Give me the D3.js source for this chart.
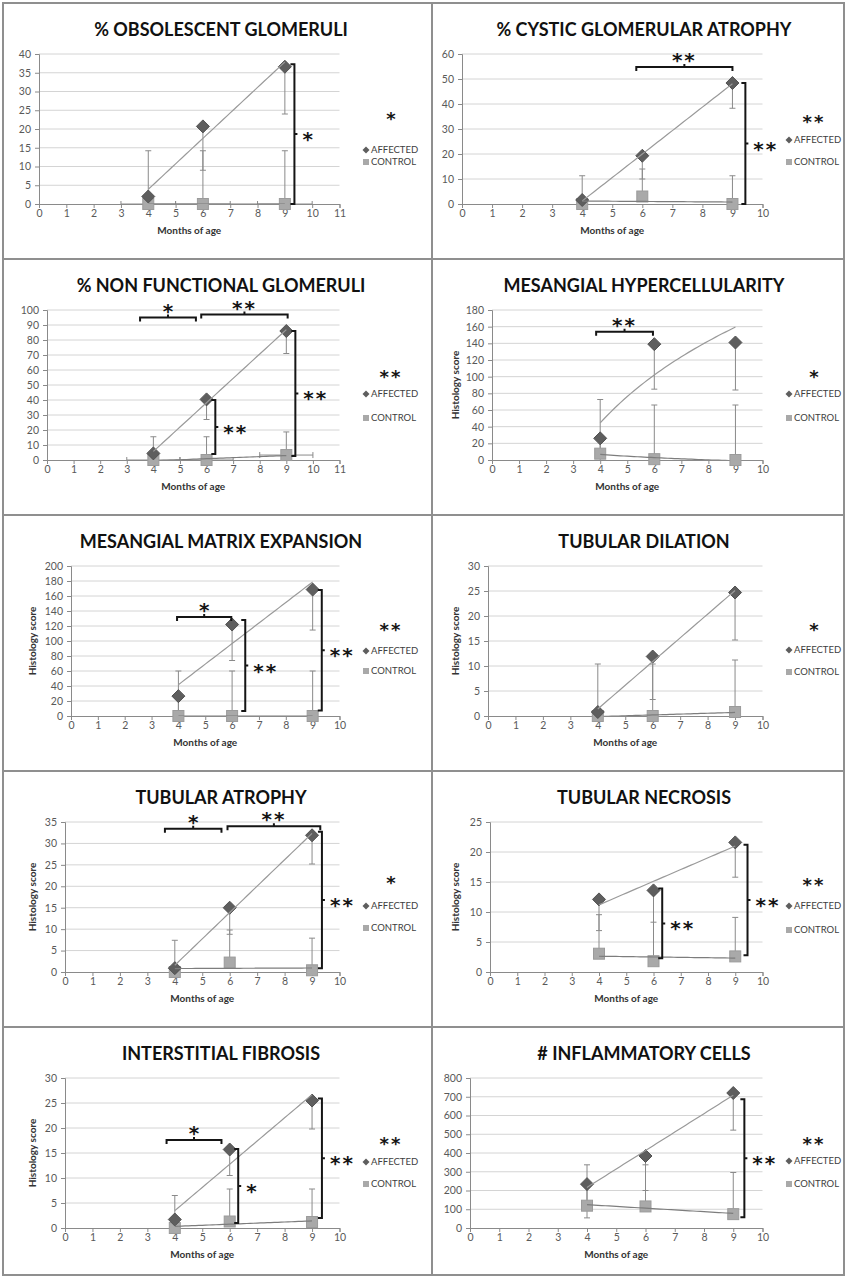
<!DOCTYPE html>
<html>
<head>
<meta charset="utf-8">
<script src="https://cdn.jsdelivr.net/npm/d3@7"></script>
<style>
  body { margin: 0; background: #fff; }
  svg { display: block; }
</style>
</head>
<body>
<svg id="chart"></svg>
<script>
var W = 846, H = 1277;

// ---- data ----
var titles = [
  '% OBSOLESCENT GLOMERULI', '% CYSTIC GLOMERULAR ATROPHY',
  '% NON FUNCTIONAL GLOMERULI', 'MESANGIAL HYPERCELLULARITY',
  'MESANGIAL MATRIX EXPANSION', 'TUBULAR DILATION',
  'TUBULAR ATROPHY', 'TUBULAR NECROSIS',
  'INTERSTITIAL FIBROSIS', '# INFLAMMATORY CELLS'
];
var months = [4, 6, 9];
var seriesNames = ['AFFECTED', 'CONTROL'];
var xMaxes = [11, 10, 11, 10, 10, 10, 10, 10, 10, 10];
var yMaxes = [40, 60, 100, 180, 200, 30, 35, 25, 30, 800];
var ySteps = [5, 10, 10, 20, 20, 5, 5, 5, 5, 100];
var yTitles = ['', '', '', 'Histology score', 'Histology score', 'Histology score',
  'Histology score', 'Histology score', 'Histology score', ''];

var affectedMeans = [
  [2.0, 20.7, 36.6], [1.6, 19.3, 48.4], [4.4, 40.4, 86], [26, 139, 141],
  [26.5, 122, 168.6], [0.8, 11.9, 24.7], [0.9, 15, 31.9], [12.1, 13.6, 21.6],
  [1.7, 15.7, 25.5], [234, 384, 720]
];
var affectedLowErr = [
  [12, 11.7, 12.6], [9, 9.3, 10.1], [13, 13.4, 15], [55, 54, 57],
  [47, 48, 54], [8.7, 8.6, 9.5], [6, 6.2, 6.7], [5.2, 12, 5.8],
  [5, 5.2, 5.7], [180, 184, 198]
];
var controlMeans = [
  [0, 0, 0], [0, 3, 0], [0, 0, 3.3], [7.6, 1, 0],
  [0, 0, 0], [0, 0, 0.8], [0, 2.2, 0.4], [3.05, 1.8, 2.6],
  [0, 1.3, 1.2], [119, 115, 74]
];
var controlHighErr = [
  [14.2, 14.2, 14.2], [11.3, 11, 11.3], [15.5, 15.5, 15.4], [65, 65, 66],
  [60, 60, 60], [10.4, 10.4, 10.4], [7.4, 7.6, 7.5], [6.5, 6.5, 6.5],
  [6.5, 6.5, 6.6], [218, 222, 222]
];
var controlXErr = [1, 0, 1, 0, 0, 0, 0, 0, 0, 0];
var trendKinds = ['linear', 'linear', 'linear', 'log', 'linear',
  'linear', 'linear', 'linear', 'linear', 'linear'];
var overallStars = ['*', '**', '**', '*', '**', '*', '*', '**', '**', '**'];

// significance between ages (affected), in data units
var ageBrackets = [
  [],
  [{ from: 5.8, to: 9.0, at: 54.8, stars: '**' }],
  [{ from: 3.5, to: 5.6, at: 95, stars: '*' }, { from: 5.8, to: 9.05, at: 97, stars: '**' }],
  [{ from: 3.85, to: 5.95, at: 154, stars: '**' }],
  [{ from: 3.95, to: 5.97, at: 132, stars: '*' }],
  [],
  [{ from: 3.64, to: 5.7, at: 33.4, stars: '*' }, { from: 5.92, to: 9.3, at: 34, stars: '**' }],
  [],
  [{ from: 3.7, to: 5.7, at: 17.6, stars: '*' }],
  []
];
// significance affected vs control, in data units
var groupBrackets = [
  [{ at: 9.35, top: 37.3, bottom: 0, stars: '*' }],
  [{ at: 9.43, top: 48.4, bottom: 0, stars: '**' }],
  [{ at: 6.33, top: 40, bottom: 4, stars: '**' }, { at: 9.34, top: 86, bottom: 2.7, stars: '**' }],
  [],
  [{ at: 6.49, top: 128, bottom: 6.6, stars: '**' }, { at: 9.34, top: 168, bottom: 7.5, stars: '**' }],
  [],
  [{ at: 9.36, top: 32.7, bottom: 0.9, stars: '**' }],
  [{ at: 6.32, top: 13.9, bottom: 2.3, stars: '**' }, { at: 9.45, top: 21.2, bottom: 2.8, stars: '**' }],
  [{ at: 6.31, top: 15.8, bottom: 1, stars: '*' }, { at: 9.36, top: 25.9, bottom: 2, stars: '**' }],
  [{ at: 9.38, top: 687, bottom: 57, stars: '**' }]
];

// ---- layout ----
var plotLefts = [39, 39, 47, 69, 71, 65, 65, 67, 65, 47];
var plotRight = 339.5, plotTop = 54, plotBottom = 204;
var legendAffectedY = [150, 140, 138, 138, 139, 138, 138, 138, 138, 137];
var legendControlY = [162, 162, 162, 162, 159, 160, 160, 162, 160, 160];
var legendStarY = [114, 117, 116, 116, 113, 113, 110, 112, 115, 115];

var affectedColor = '#5e5e5e', controlColor = '#a9a9a9';
var lineColor = '#9a9a9a', errColor = '#8a8a8a', inkColor = '#151515';
var font = 'Lato, "Open Sans", sans-serif';

var svg = d3.select('#chart').attr('width', W).attr('height', H);

// panel frames
var frame = svg.append('g').attr('stroke', '#8f8f8f').attr('stroke-width', 2).attr('fill', 'none');
frame.append('rect').attr('x', 3).attr('y', 3).attr('width', 841).attr('height', 1272);
frame.append('line').attr('x1', 432).attr('x2', 432).attr('y1', 3).attr('y2', 1275);
[259, 515, 771, 1027].forEach(function(yy) {
  frame.append('line').attr('x1', 3).attr('x2', 844).attr('y1', yy).attr('y2', yy);
});

function fitLine(xs, ys) {
  var mx = d3.mean(xs), my = d3.mean(ys);
  var b = d3.sum(xs, function(v, k) { return (v - mx) * (ys[k] - my); }) /
    d3.sum(xs, function(v) { return (v - mx) * (v - mx); });
  return [my - b * mx, b];
}

// Excel-style trendline over the measured ages
function trendPoints(kind, ys) {
  var tx = kind === 'log' ? months.map(Math.log) : months;
  var c = fitLine(tx, ys);
  return d3.range(0, 41).map(function(k) {
    var m = 4 + k * 5 / 40;
    var t = kind === 'log' ? Math.log(m) : m;
    return [m, c[0] + c[1] * t];
  });
}

function stars(g, s, x, y, anchor, size) {
  g.append('text')
    .attr('x', x).attr('y', y)
    .attr('dy', '0.6em')
    .attr('text-anchor', anchor || 'middle')
    .attr('font-family', '"DejaVu Sans", sans-serif')
    .attr('font-weight', 700)
    .attr('font-size', size || 20)
    .attr('letter-spacing', s.length > 1 ? 2 : 0)
    .attr('fill', inkColor)
    .text(s);
}

titles.forEach(function(title, i) {
  var g = svg.append('g')
    .attr('transform', 'translate(' + (i % 2) * 423 + ',' + Math.floor(i / 2) * 256 + ')');
  var x = d3.scaleLinear().domain([0, xMaxes[i]]).range([plotLefts[i], plotRight]);
  var y = d3.scaleLinear().domain([0, yMaxes[i]]).range([plotBottom, plotTop]);
  var yTicks = d3.range(0, yMaxes[i] + ySteps[i] / 2, ySteps[i]);

  g.append('clipPath').attr('id', 'clip' + i)
    .append('rect')
    .attr('x', x(0)).attr('y', y(yMaxes[i]))
    .attr('width', x(xMaxes[i]) - x(0)).attr('height', y(0) - y(yMaxes[i]));

  // title
  g.append('text')
    .attr('x', 221).attr('y', 36)
    .attr('text-anchor', 'middle')
    .attr('font-family', font).attr('font-weight', 700).attr('font-size', 18)
    .attr('fill', '#111')
    .text(title);

  // gridlines
  g.append('g').selectAll('line')
    .data(yTicks.slice(1))
    .enter().append('line')
    .attr('x1', x(0)).attr('x2', x(xMaxes[i]))
    .attr('y1', function(d) { return y(d); }).attr('y2', function(d) { return y(d); })
    .attr('stroke', '#d4d4d4');

  // axes
  var ax = g.append('g').attr('transform', 'translate(0,' + y(0) + ')')
    .call(d3.axisBottom(x).ticks(xMaxes[i]).tickSize(4).tickPadding(2));
  var ay = g.append('g').attr('transform', 'translate(' + x(0) + ',0)')
    .call(d3.axisLeft(y).tickValues(yTicks).tickSize(4).tickPadding(4));
  [ax, ay].forEach(function(a) {
    a.selectAll('path, line').attr('stroke', '#8a8a8a');
    a.selectAll('text').attr('fill', '#595959').attr('font-size', 10.5).attr('font-family', font);
  });

  g.append('text')
    .attr('x', (x(0) + plotRight) / 2).attr('y', 234)
    .attr('text-anchor', 'middle')
    .attr('font-family', font).attr('font-weight', 700).attr('font-size', 10)
    .attr('fill', '#333')
    .text('Months of age');

  if (yTitles[i]) {
    g.append('text')
      .attr('transform', 'translate(36,' + (plotTop + plotBottom) / 2 + ') rotate(-90)')
      .attr('text-anchor', 'middle')
      .attr('font-family', font).attr('font-weight', 700).attr('font-size', 10)
      .attr('fill', '#333')
      .text(yTitles[i]);
  }

  // error bars (clipped to plot area)
  var eb = g.append('g').attr('clip-path', 'url(#clip' + i + ')')
    .attr('stroke', errColor).attr('stroke-width', 1).attr('fill', 'none');
  var bars = months.map(function(m, k) {
    return [
      { m: m, from: affectedMeans[i][k], to: affectedMeans[i][k] - affectedLowErr[i][k] },
      { m: m, from: controlMeans[i][k], to: controlMeans[i][k] + controlHighErr[i][k] }
    ];
  }).flat();
  bars.forEach(function(b) {
    eb.append('line').attr('x1', x(b.m)).attr('x2', x(b.m))
      .attr('y1', y(b.from)).attr('y2', y(b.to));
    eb.append('line').attr('x1', x(b.m) - 3).attr('x2', x(b.m) + 3)
      .attr('y1', y(b.to)).attr('y2', y(b.to));
  });
  if (controlXErr[i]) {
    months.forEach(function(m, k) {
      var yy = y(controlMeans[i][k]);
      var e = controlXErr[i];
      eb.append('line').attr('x1', x(m - e)).attr('x2', x(m + e)).attr('y1', yy).attr('y2', yy);
      [m - e, m + e].forEach(function(c) {
        eb.append('line').attr('x1', x(c)).attr('x2', x(c)).attr('y1', yy - 3).attr('y2', yy + 3);
      });
    });
  }

  // markers
  g.append('g').selectAll('rect')
    .data(controlMeans[i])
    .enter().append('rect')
    .attr('x', function(d, k) { return x(months[k]) - 5.5; })
    .attr('y', function(d) { return y(d) - 5.5; })
    .attr('width', 11).attr('height', 11)
    .attr('fill', controlColor).attr('stroke', '#9b9b9b');
  g.append('g').selectAll('path')
    .data(affectedMeans[i])
    .enter().append('path')
    .attr('transform', function(d, k) { return 'translate(' + x(months[k]) + ',' + y(d) + ')'; })
    .attr('d', 'M0,-6.5L6.5,0L0,6.5L-6.5,0Z')
    .attr('fill', affectedColor).attr('stroke', '#525252');

  // trendlines
  var line = d3.line().x(function(d) { return x(d[0]); }).y(function(d) { return y(d[1]); });
  var tg = g.append('g').attr('clip-path', 'url(#clip' + i + ')').attr('fill', 'none');
  tg.append('path').attr('d', line(trendPoints(trendKinds[i], affectedMeans[i])))
    .attr('stroke', lineColor).attr('stroke-width', 1.2);
  tg.append('path').attr('d', line(trendPoints(trendKinds[i], controlMeans[i])))
    .attr('stroke', '#7d7d7d').attr('stroke-width', 1.2);

  // significance brackets
  var br = g.append('g').attr('stroke', inkColor).attr('stroke-width', 2).attr('fill', 'none');
  ageBrackets[i].forEach(function(b) {
    var x0 = x(b.from), x1 = x(b.to), yy = y(b.at), xm = (x0 + x1) / 2;
    br.append('path').attr('d',
      'M' + x0 + ',' + (yy + 4) + 'L' + x0 + ',' + yy + 'L' + x1 + ',' + yy + 'L' + x1 + ',' + (yy + 4) +
      'M' + xm + ',' + yy + 'L' + xm + ',' + (yy - 3));
    stars(g, b.stars, xm, yy - 12);
  });
  groupBrackets[i].forEach(function(b) {
    var xx = x(b.at), y0 = y(b.top), y1 = y(b.bottom), ym = (y0 + y1) / 2;
    br.append('path').attr('d',
      'M' + (xx - 4) + ',' + y0 + 'L' + xx + ',' + y0 + 'L' + xx + ',' + y1 + 'L' + (xx - 4) + ',' + y1 +
      'M' + xx + ',' + ym + 'L' + (xx + 3) + ',' + ym);
    stars(g, b.stars, xx + 8, ym, 'start');
  });

  // legend
  var lg = g.append('g').attr('font-family', font).attr('font-size', 9.5).attr('fill', '#404040');
  lg.append('path').attr('transform', 'translate(366,' + legendAffectedY[i] + ')')
    .attr('d', 'M0,-3.5L3.5,0L0,3.5L-3.5,0Z').attr('fill', affectedColor);
  lg.append('rect').attr('x', 363).attr('y', legendControlY[i] - 3).attr('width', 6).attr('height', 6)
    .attr('fill', controlColor);
  [legendAffectedY[i], legendControlY[i]].forEach(function(yy, k) {
    lg.append('text').attr('x', 371).attr('y', yy).attr('dy', '0.35em').text(seriesNames[k]);
  });
  stars(g, overallStars[i], 391, legendStarY[i], 'middle', 18);
});
</script>
</body>
</html>
